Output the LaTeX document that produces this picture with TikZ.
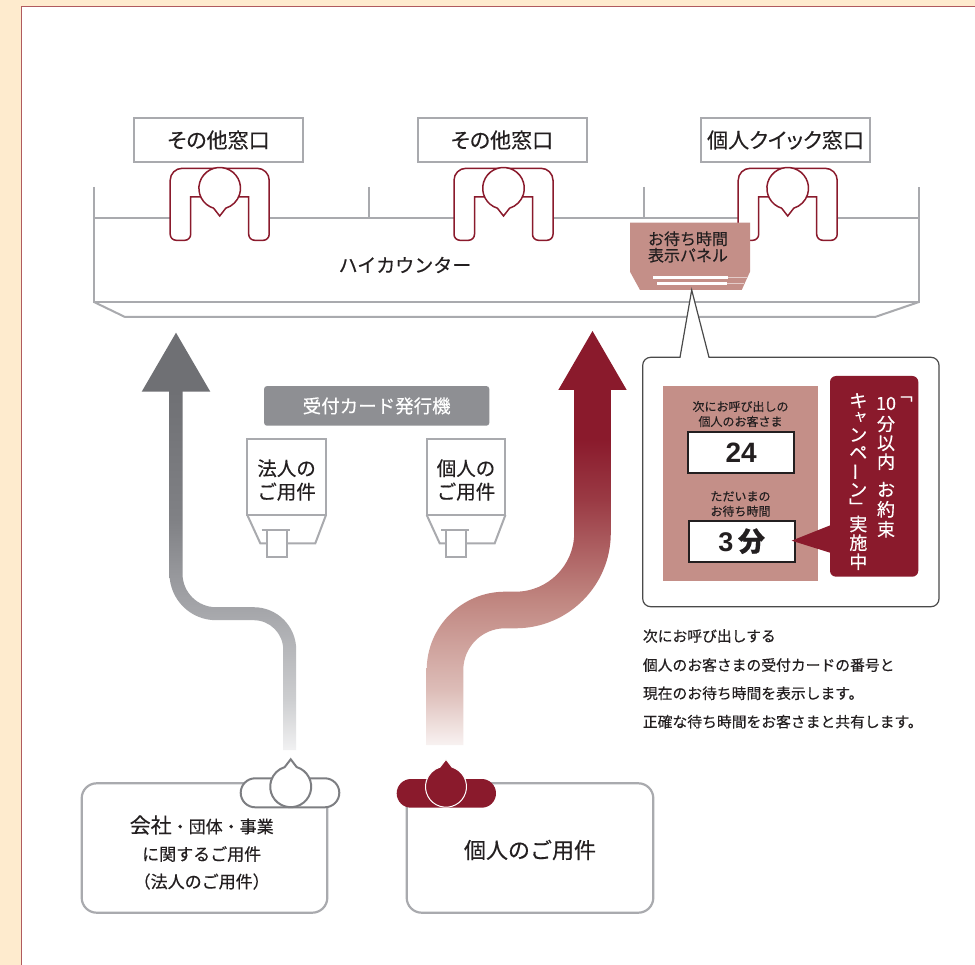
\documentclass[tikz,border=0pt]{standalone}
\usepackage{fontspec}
\setmainfont{Noto Sans CJK JP}[FakeBold=0.35]
\newfontfamily\propkana{Noto Sans CJK JP}[FakeBold=0.35, RawFeature=+palt]
\newfontfamily\latinbold{Liberation Sans}[BoldFont={Liberation Sans Bold}]

\definecolor{cream}{HTML}{FEEBCE}
\definecolor{frameline}{HTML}{B05A5E}
\definecolor{wine}{HTML}{8A1A2C}
\definecolor{rosepanel}{HTML}{C48F88}
\definecolor{linegray}{HTML}{A9AAAE}
\definecolor{taggray}{HTML}{8E8F93}
\definecolor{ink}{HTML}{231F20}
\definecolor{bubbleline}{HTML}{4A4A4A}
\definecolor{headgray}{HTML}{7D7E82}
% gradient stops of the two flow arrows
\definecolor{wA}{HTML}{F8F2F1}
\definecolor{wB}{HTML}{DDBDB8}
\definecolor{wC}{HTML}{C08680}
\definecolor{wD}{HTML}{9A3A44}
\definecolor{gA}{HTML}{F1F1F2}
\definecolor{gB}{HTML}{CDCED0}
\definecolor{gC}{HTML}{A6A7AB}
\definecolor{gD}{HTML}{808185}
\definecolor{gE}{HTML}{6F7074}

\pgfdeclareverticalshading{wineflow}{100bp}{color(0bp)=(wA); color(25bp)=(wA); color(32.7bp)=(wB); color(45.4bp)=(wC); color(59.5bp)=(wD); color(68bp)=(wine); color(100bp)=(wine)}
\pgfdeclareverticalshading{grayflow}{100bp}{color(0bp)=(gA); color(25bp)=(gA); color(32bp)=(gB); color(44.1bp)=(gC); color(57.1bp)=(gD); color(75bp)=(gE); color(100bp)=(gE)}

\begin{document}
\begin{tikzpicture}[x=1pt,y=-1pt,
  txt/.style={text=ink, inner sep=0pt},
  winlabel/.style={draw=linegray, line width=2pt, fill=white, text=ink,
    font=\propkana\fontsize{21}{24}\selectfont, minimum width=169pt, minimum height=44pt, inner sep=0pt},
  counterline/.style={draw=linegray, line width=2pt, line join=miter},
  machineline/.style={draw=linegray, line width=2pt, line join=miter},
  machinetext/.style={txt, align=center, font=\fontsize{19.5}{23.4}\selectfont},
  smalltxt/.style={txt, align=center, font=\fontsize{12}{15}\selectfont},
  numbox/.style={draw=ink, line width=2pt, fill=white, minimum width=106pt, minimum height=41pt,
    inner sep=0pt, text=ink},
  vchar/.style={inner sep=0pt, text=white, font=\fontsize{18}{18}\selectfont},
  desc/.style={txt, anchor=west, font=\fontsize{14.8}{17}\selectfont},
  tellerpic/.pic={
    \fill[white] (-49.5,-20) rectangle (49.5,52);
    \draw[wine, line width=1.5pt, fill=white] (-29,8.7) -- (-29,46)
      arc[start angle=0,end angle=90,radius=6] -- (-43.5,52)
      arc[start angle=90,end angle=180,radius=6] -- (-49.5,-8)
      arc[start angle=180,end angle=270,radius=12] -- (37.5,-20)
      arc[start angle=270,end angle=360,radius=12] -- (49.5,46)
      arc[start angle=0,end angle=90,radius=6] -- (35,52)
      arc[start angle=90,end angle=180,radius=6] -- (29,8.7) -- cycle;
    \draw[wine, line width=1.5pt, fill=white] (107:20.8)
      arc[start angle=107,end angle=433,radius=20.8] -- (0,27.7) -- cycle;
  },
  headup/.pic={
    \path[pic actions] (-73:20.5) arc[start angle=-73,end angle=253,radius=20.5] -- (0,-27.4) -- cycle;
  },
  machinepic/.pic={
    \draw[machineline, fill=white] (0,0) rectangle (78.7,75.7);
    \draw[machineline] (0,75.7) -- (13,104) -- (68,104) -- (78.7,75.7);
    \draw[machineline] (14.4,90.7) -- (42.7,90.7);
    \draw[machineline, fill=white] (19.4,90.7) rectangle (39.4,117.4);
  }
]
\useasboundingbox (0,0) rectangle (975,965);
\fill[cream] (0,0) rectangle (975,965);
\fill[white] (21,7) rectangle (975,965);
\draw[frameline, line width=1pt] (21,965) -- (21,7) -- (975,7);

% ---- window labels
\node[winlabel] (w1) at (218.5,140) {その他窓口};
\node[winlabel] (w2) at (502,140) {その他窓口};
\node[winlabel] (w3) at (785.5,140) {個人クイック窓口};

% ---- high counter
\draw[counterline] (94,187) -- (94,302) -- (919,302) -- (919,187);
\draw[counterline] (94,218) -- (919,218);
\draw[counterline] (369,187) -- (369,218);
\draw[counterline] (644,187) -- (644,218);
\draw[counterline] (94,302) -- (125,317) -- (875,317) -- (919,302);
\node[txt, font=\fontsize{19}{22}\selectfont] (hc) at (405,265) {ハイカウンター};

% ---- tellers
\pic at (219.7,188.3) {tellerpic};
\pic at (503.5,188.3) {tellerpic};
\pic at (787.7,188.3) {tellerpic};

% ---- waiting-time panel above the counter
\fill[rosepanel] (630,222.7) -- (750,222.7) -- (750,271.7) -- (741.7,290) -- (640,290) -- (630,271.7) -- cycle;
\draw[white, line width=3.2pt] (653.3,277.4) -- (728.3,277.4);
\draw[white, line width=3.2pt] (657.3,283.5) -- (726.7,283.5);
\draw[white, opacity=0.55, line width=1.6pt] (728.3,277.4) -- (746.8,277.4);
\draw[white, opacity=0.55, line width=1.6pt] (726.7,283.5) -- (743.6,283.5);
\node[txt, align=center, font=\fontsize{16}{16.5}\selectfont] (panel) at (688,247) {お待ち時間\\表示パネル};
\coordinate (panelTip) at (691.7,290);

% ---- callout bubble
\draw[bubbleline, line width=1.2pt, fill=white, line join=miter]
  (709,357.3) -- (931,357.3) arc[start angle=270,end angle=360,radius=8]
  -- (939,598.7) arc[start angle=0,end angle=90,radius=8]
  -- (650.7,606.7) arc[start angle=90,end angle=180,radius=8]
  -- (642.7,365.3) arc[start angle=180,end angle=270,radius=8]
  -- (680,357.3) -- (panelTip) -- cycle;

\fill[rosepanel] (662.7,386) rectangle (817.7,580.7);
\node[smalltxt] (t1) at (740.5,414) {次にお呼び出しの\\個人のお客さま};
\node[numbox, font=\latinbold\bfseries\fontsize{28}{28}\selectfont] (n24) at (741.2,452.8) {24};
\node[smalltxt] (t2) at (740.5,504) {ただいまの\\お待ち時間};
\node[numbox, font=\fontsize{27}{27}\selectfont] (n3) at (741.7,541.2) {{\latinbold\bfseries 3}\,{\bfseries 分}};

\fill[wine, rounded corners=6pt] (830,376) rectangle (918.3,576.7);
\fill[wine] (831,525) -- (791.7,540.7) -- (831,553) -- cycle;

% right column of the vertical slogan
\node[vchar, font=\fontsize{16}{16}\selectfont] (r0) at (904.5,399) {﹁};
\foreach \c/\y [count=\i] in {10/403.5,分/424,以/443.3,内/461.7,お/489.3,約/509.3,束/529.3}
  \node[vchar] (r\i) at (886,\y) {\c};
% left column
\foreach \c/\y [count=\i] in {キ/400.7,ン/435,ペ/452.7,ン/490,﹂/506,実/524,施/542.7,中/561.7}
  \node[vchar] (l\i) at (858.3,\y) {\c};
\node[vchar, font=\fontsize{14}{14}\selectfont] (lsmall) at (860.5,417) {ャ};
\node[vchar, rotate=90] (lbar) at (858.3,471.7) {ー};

% ---- explanation text
\node[desc] (d1) at (642.7,636) {次にお呼び出しする};
\node[desc] (d2) at (642.7,665) {個人のお客さまの受付カードの番号と};
\node[desc] (d3) at (642.7,693.3) {現在のお待ち時間を表示します。};
\node[desc] (d4) at (642.7,721.7) {正確な待ち時間をお客さまと共有します。};

% ---- ticket machines
\node[fill=taggray, rounded corners=3pt, minimum width=225.3pt, minimum height=39.7pt, inner sep=0pt,
  text=white, font=\fontsize{18.5}{20}\selectfont] (tag) at (376.7,405.9) {受付カード発行機};
\pic at (247.3,439.3) {machinepic};
\pic at (426.7,439.3) {machinepic};
\node[machinetext] (m1) at (286.6,480) {法人の\\ご用件};
\node[machinetext] (m2) at (466,480) {個人の\\ご用件};

% ---- flow arrows
\shade[shading=grayflow]
  (289.7-6.5,750) -- (289.7-6.5,613.7+36) arc[start angle=0,end angle=-90,radius=36-6.5]
  -- (176+40,613.7+6.5) arc[start angle=90,end angle=180,radius=40+6.5]
  -- (176-6.5,391) -- (176+6.5,391) -- (176+6.5,613.7-40)
  arc[start angle=180,end angle=90,radius=40-6.5] -- (289.7-36,613.7-6.5)
  arc[start angle=-90,end angle=0,radius=36+6.5] -- (289.7+6.5,750) -- cycle;
\fill[gE] (176,332.7) -- (210.3,391.7) -- (141.7,391.7) -- cycle;

\shade[shading=wineflow]
  (445-18.3,745) -- (445-18.3,610+60) arc[start angle=180,end angle=270,radius=60+18.3]
  -- (592.5-77,610-18.3) arc[start angle=90,end angle=0,radius=77-18.3]
  -- (592.5-18.3,389) -- (592.5+18.3,389) -- (592.5+18.3,610-77)
  arc[start angle=0,end angle=90,radius=77+18.3] -- (445+60,610+18.3)
  arc[start angle=270,end angle=180,radius=60-18.3] -- (445+18.3,745) -- cycle;
\fill[wine] (592.5,331) -- (626.7,390) -- (558.3,390) -- cycle;

% ---- customers
\draw[linegray, line width=2.2pt, fill=white, rounded corners=15pt] (81.7,783.3) rectangle (327.3,912.7);
\draw[headgray, line width=2pt, fill=white, rounded corners=14.5pt] (240.7,778.3) rectangle (339.3,807.3);
\pic[draw=headgray, line width=2pt, fill=white] at (290.7,786.7) {headup};
\node[txt, align=center, font=\fontsize{17}{27.5}\selectfont] (c1) at (201.7,852.5)
  {{\fontsize{21}{27.5}\selectfont 会社}・団体・事業\\に関するご用件\\（法人のご用件）};

\draw[linegray, line width=2.2pt, fill=white, rounded corners=15pt] (406.7,783.3) rectangle (653.3,912.7);
\fill[wine, rounded corners=14.3pt] (396.7,779) rectangle (496,807.7);
\pic[draw=white, line width=1pt, fill=wine] at (446,786.7) {headup};
\node[txt, font=\fontsize{22}{26}\selectfont] (c2) at (530,850) {個人のご用件};
\end{tikzpicture}
\end{document}
